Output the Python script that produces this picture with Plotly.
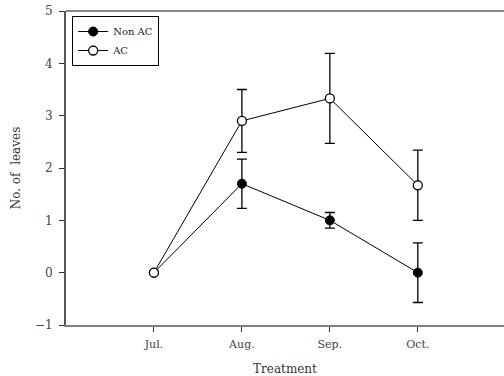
import plotly.graph_objects as go

months = ["Jul.", "Aug.", "Sep.", "Oct."]
x_pos = [1, 2, 3, 4]
non_ac = [0, 1.7, 1.0, 0.0]
non_ac_err = [0, 0.47, 0.15, 0.57]
ac = [0, 2.9, 3.33, 1.67]
ac_err = [0, 0.6, 0.86, 0.67]

FONT = "DejaVu Serif"

fig = go.Figure()
fig.add_trace(go.Scatter(
    x=x_pos, y=non_ac, name="Non AC", mode="lines+markers",
    line=dict(color="black", width=1),
    marker=dict(symbol="circle", size=9, color="black", line=dict(color="black", width=1)),
    error_y=dict(type="data", array=non_ac_err, visible=True, color="black", thickness=1.3, width=5),
))
fig.add_trace(go.Scatter(
    x=x_pos, y=ac, name="AC", mode="lines+markers",
    line=dict(color="black", width=1),
    marker=dict(symbol="circle", size=9, color="white", line=dict(color="black", width=1.3)),
    error_y=dict(type="data", array=ac_err, visible=True, color="black", thickness=1.3, width=5),
))

fig.update_layout(
    width=504, height=376,
    margin=dict(l=66, r=0, t=11, b=51, autoexpand=False),
    paper_bgcolor="white", plot_bgcolor="white",
    font=dict(family=FONT, size=11, color="#333"),
    showlegend=True,
    legend=dict(
        x=0.014, y=0.984, xanchor="left", yanchor="top",
        bgcolor="white", bordercolor="black", borderwidth=1,
        font=dict(family=FONT, size=10, color="#222"),
        tracegroupgap=0, itemwidth=30,
    ),
    xaxis=dict(
        range=[0, 4.98], tickvals=x_pos, ticktext=months,
        showgrid=False, zeroline=False, automargin=False,
        showline=True, linecolor="#808080", linewidth=2,
        ticks="outside", ticklen=5, tickcolor="#333", tickwidth=1,
        ticklabelstandoff=3,
        title=dict(text="Treatment", font=dict(family=FONT, size=12, color="#333"), standoff=14),
        tickfont=dict(family=FONT, size=11, color="#444"),
    ),
    yaxis=dict(
        range=[-1, 5], tickvals=[-1, 0, 1, 2, 3, 4, 5],
        ticktext=["\u22121", "0", "1", "2", "3", "4", "5"],
        showgrid=False, zeroline=False, automargin=False,
        showline=True, linecolor="#555", linewidth=2,
        ticks="outside", ticklen=5, tickcolor="#333", tickwidth=1,
        ticklabelstandoff=4,
        title=dict(text="No. of  leaves", font=dict(family=FONT, size=12, color="#333"), standoff=12),
        tickfont=dict(family=FONT, size=12, color="#444"),
    ),
    shapes=[dict(type="line", xref="paper", yref="paper", x0=0, x1=1, y0=1, y1=1,
                 line=dict(color="#888", width=2))],
)

fig.write_html(
    "out.html",
    config={"displayModeBar": False},
    post_script="document.body.style.margin='0';document.body.style.overflow='hidden';",
)
